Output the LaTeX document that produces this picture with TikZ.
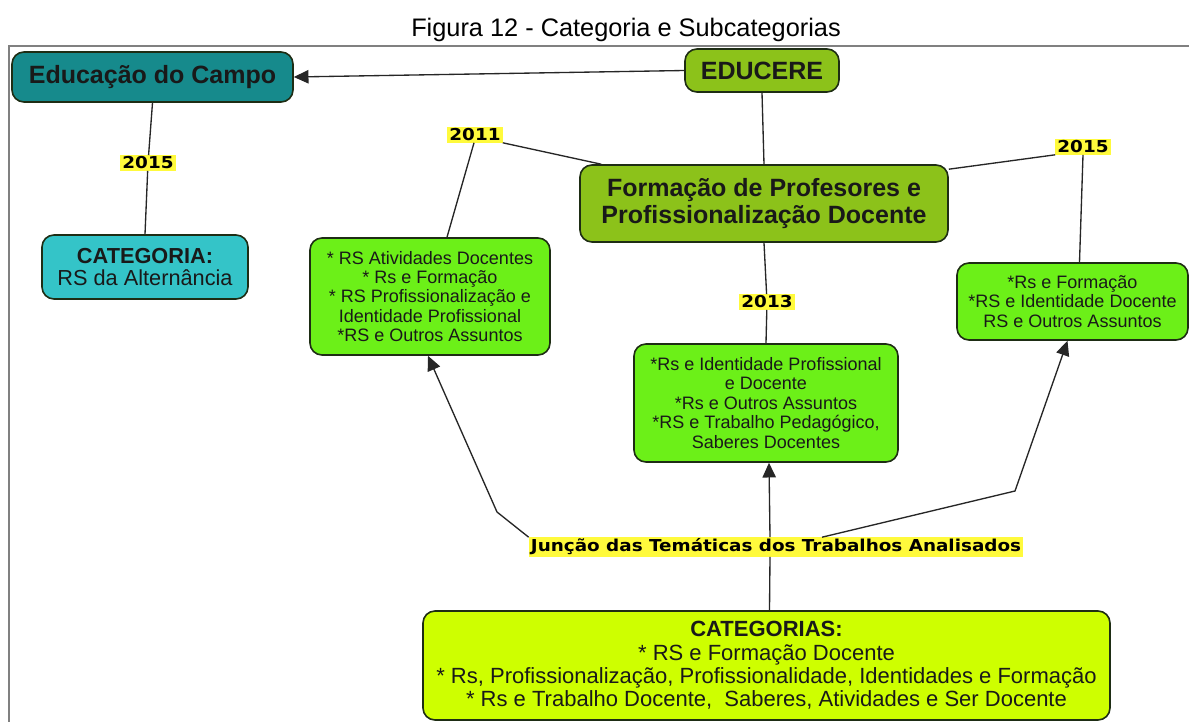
\documentclass[tikz,border=0pt]{standalone}
\usepackage{fontspec}
\setmainfont{Liberation Sans}
\newfontfamily\lblfont[FakeStretch=1.12]{DejaVu Sans}
\usetikzlibrary{arrows.meta,calc}
\definecolor{teal1}{RGB}{22,138,140}
\definecolor{cyan1}{RGB}{52,196,200}
\definecolor{olive1}{RGB}{140,194,26}
\definecolor{green1}{RGB}{108,240,24}
\definecolor{lime1}{RGB}{206,255,0}
\definecolor{hl}{RGB}{255,250,60}
\definecolor{edge}{RGB}{30,45,20}
\begin{document}
\begin{tikzpicture}[x=0.75pt,y=-0.75pt,
 box/.style={draw=edge,line width=1.2pt,rounded corners=9pt,align=center,inner sep=0pt,text=black!90},
 conn/.style={draw=black!85,line width=1pt},
 arr/.style={conn,-{Triangle[length=11pt,width=10pt]}},
 yearlbl/.style={fill=hl,inner xsep=1.5pt,inner ysep=1pt,font=\lblfont\bfseries\fontsize{12.3}{14}\selectfont},
 bigtxt/.style={font=\bfseries\fontsize{18.75}{20.25}\selectfont},
 smalltxt/.style={font=\fontsize{13.5}{14.6}\selectfont},
]
\fill[white] (0,0) rectangle (1189,722);
\useasboundingbox (0,0) rectangle (1189,722);
\draw[black!50,line width=1.5pt] (1189,46) -- (9,46) -- (9,722);
\node[font=\fontsize{19}{22}\selectfont] (title) at (626,30) {Figura 12 - Categoria e Subcategorias};

\node[box,bigtxt,fill=teal1,minimum width=210.75pt,minimum height=37.5pt] (edc) at (152.5,77) {Educação do Campo};
\node[box,bigtxt,fill=olive1,minimum width=115.5pt,minimum height=32.25pt] (educere) at (762,70.5) {EDUCERE};
\node[box,fill=cyan1,minimum width=154.5pt,minimum height=48pt,font=\fontsize{16.3}{16.5}\selectfont] (cat1) at (145,267) {\textbf{CATEGORIA:}\\RS da Alternância};
\node[box,bigtxt,fill=olive1,minimum width=276pt,minimum height=57.75pt] (form) at (764,203.5) {Formação de Profesores e\\Profissionalização Docente};
\node[box,smalltxt,fill=green1,minimum width=180pt,minimum height=87.75pt] (box1) at (430,296.5) {* RS Atividades Docentes\\* Rs e Formação\\* RS Profissionalização e\\Identidade Profissional\\*RS e Outros Assuntos};
\node[box,smalltxt,fill=green1,minimum width=198pt,minimum height=88.5pt] (box2) at (766,403) {*Rs e Identidade Profissional\\e Docente\\*Rs e Outros Assuntos\\*RS e Trabalho Pedagógico,\\Saberes Docentes};
\node[box,smalltxt,fill=green1,minimum width=173.25pt,minimum height=57.75pt] (box3) at (1072.5,301.5) {*Rs e Formação\\*RS e Identidade Docente\\RS e Outros Assuntos};
\node[box,fill=lime1,minimum width=515.25pt,minimum height=81.75pt,font=\fontsize{16.5}{17.5}\selectfont] (cats) at (766.5,665.5) {\textbf{CATEGORIAS:}\\* RS e Formação Docente\\* Rs, Profissionalização, Profissionalidade, Identidades e Formação\\* Rs e Trabalho Docente,~ Saberes, Atividades e Ser Docente};

\node[yearlbl] (y15a) at (148,163) {2015};
\node[yearlbl] (y11) at (475,135) {2011};
\node[yearlbl] (y15b) at (1083,147) {2015};
\node[yearlbl] (y13) at (767,302) {2013};
\node[yearlbl] (jun) at (776,547) {Junção das Temáticas dos Trabalhos Analisados};

\coordinate (bendL) at (497,512);
\coordinate (bendR) at (1015,491);

\draw[arr] (educere.west) -- (edc.east);
\draw[conn] (edc.south) -- (y15a);
\draw[conn] (y15a) -- (cat1.north);
\draw[conn] (educere.south) -- (form.north);
\draw[conn] (y11.south east) -- ($(form.north west)+(22,0)$);
\draw[conn] ($(y11.south)+(-1,0)$) -- ($(box1.north)+(17,0)$);
\draw[conn] ($(form.north east)+(0,5)$) -- (y15b.south west);
\draw[conn] (y15b.south) -- ($(box3.north)+(7,0)$);
\draw[conn] (form.south) -- (y13);
\draw[conn] (y13) -- (box2.north);
\draw[arr] (jun.north west) -- (bendL) -- ($(box1.south)+(-2,0)$);
\draw[arr] ($(jun.north)+(-6,0)$) -- ($(box2.south)+(3,0)$);
\draw[arr] ($(jun.north)+(46,0)$) -- (bendR) -- ($(box3.south)+(-5,0)$);
\draw[conn] ($(jun.south)+(-6,0)$) -- ($(cats.north)+(3,0)$);
\end{tikzpicture}
\end{document}
